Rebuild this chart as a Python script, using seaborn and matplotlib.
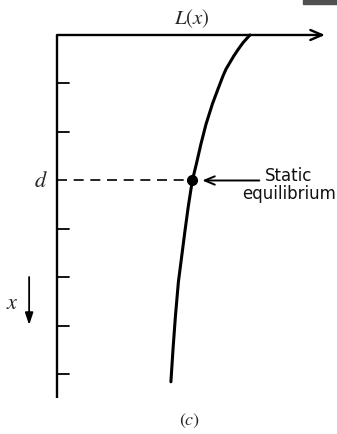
import matplotlib
matplotlib.use("Agg")
import matplotlib.pyplot as plt
import matplotlib.patches as mpatches
import seaborn as sns
import pandas as pd

# -----------------------------
# Data
# depth in tick units (x, downward), L in arbitrary units
# -----------------------------
depth = [0.0, 0.16, 0.29, 0.43, 0.56, 0.70, 0.85, 1.11, 1.42, 1.84,
         2.25, 2.66, 3.0, 3.53, 4.06, 4.62, 5.09, 5.79, 6.47, 7.15]
L_vals = [7.20, 6.94, 6.77, 6.60, 6.46, 6.31, 6.19, 6.01, 5.80, 5.56,
          5.37, 5.20, 5.05, 4.90, 4.77, 4.64, 4.53, 4.42, 4.33, 4.25]

tick_depths = [1, 2, 4, 5, 6, 7]
d_depth = 3.0
d_L = 5.05
axis_len_L = 10.0
axis_len_depth = 7.48

sns.set_theme(style="white")
plt.rcParams["font.family"] = ["DejaVu Sans"]
plt.rcParams["mathtext.fontset"] = "stix"

fig = plt.figure(figsize=(3.37, 4.35), dpi=100)
ax = fig.add_axes([0, 0, 1, 1])
ax.set_xlim(-2.127, 10.448)
ax.set_ylim(8.227, -0.742)
ax.axis("off")

df = pd.DataFrame({"L": L_vals, "depth": depth})

# -----------------------------
# Curve L(x)
# -----------------------------
sns.lineplot(data=df, x="L", y="depth", sort=False, estimator=None,
             color="black", linewidth=2.2, ax=ax)

# -----------------------------
# Axes with arrow
# -----------------------------
ax.annotate("", xy=(axis_len_L, 0), xytext=(0, 0),
            arrowprops=dict(arrowstyle="->,head_length=0.7,head_width=0.3",
                            color="black", lw=1.7, shrinkA=0, shrinkB=0))
ax.plot([0, 0], [0, axis_len_depth], color="black", lw=1.7,
        solid_capstyle="butt")

for t in tick_depths:
    ax.plot([0, 0.45], [t, t], color="black", lw=1.3)

# -----------------------------
# Static equilibrium point
# -----------------------------
ax.plot([0, d_L], [d_depth, d_depth], color="black", lw=1.2,
        linestyle=(0, (6, 4)))
ax.plot([d_L], [d_depth], "o", color="black", markersize=7)

ax.annotate("", xy=(5.42, d_depth), xytext=(7.55, d_depth),
            arrowprops=dict(arrowstyle="->,head_length=0.6,head_width=0.25",
                            color="black", lw=1.4, shrinkA=0, shrinkB=0))
ax.text(8.65, 3.07, "Static\nequilibrium", ha="center", va="center",
        fontsize=12, linespacing=1.05, color="#111111")

# -----------------------------
# Labels
# -----------------------------
ax.text(5.04, -0.36, "$L(x)$", ha="center", va="center",
        fontsize=15, fontweight="bold")
ax.text(-0.62, d_depth, "$d$", ha="center", va="center", fontsize=16)
ax.text(-1.68, 5.5, "$x$", ha="center", va="center", fontsize=16)
ax.annotate("", xy=(-1.04, 5.98), xytext=(-1.04, 4.99),
            arrowprops=dict(arrowstyle="-|>,head_length=0.6,head_width=0.2",
                            color="black", lw=1.3, shrinkA=0, shrinkB=0))
ax.text(4.93, 7.94, "$(c)$", ha="center", va="center", fontsize=13)

# dark block in the top right corner of the scan
ax.add_patch(mpatches.Rectangle((0.899, 0.988), 0.11, 0.02,
                                transform=ax.transAxes, color="#505050",
                                clip_on=False))

fig.savefig("out.png", dpi=100)
